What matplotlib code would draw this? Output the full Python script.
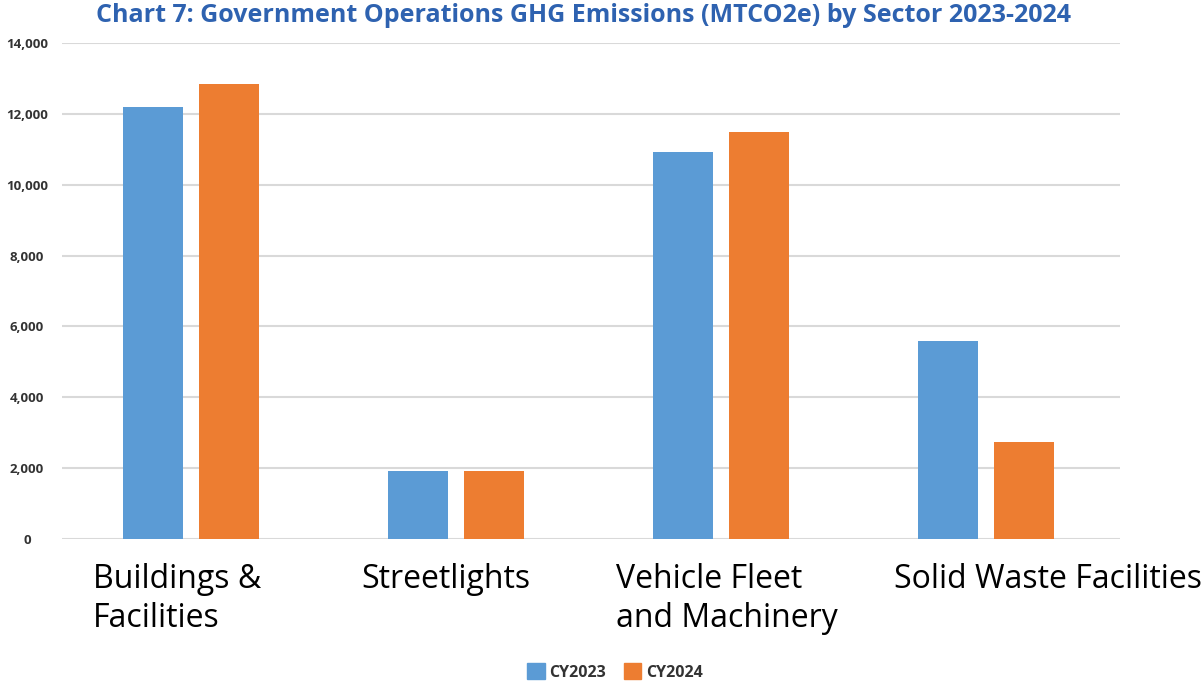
import matplotlib
matplotlib.use("Agg")
import matplotlib.pyplot as plt
import matplotlib.transforms as mtransforms
from matplotlib.patches import Patch
import numpy as np

categories = ["Buildings &\nFacilities", "Streetlights", "Vehicle Fleet\nand Machinery", "Solid Waste Facilities"]
cy2023 = [12200, 1915, 10930, 5580]
cy2024 = [12850, 1915, 11490, 2730]
series_names = ["CY2023", "CY2024"]
yticks = [0, 2000, 4000, 6000, 8000, 10000, 12000, 14000]
title = "Chart 7: Government Operations GHG Emissions (MTCO2e) by Sector 2023-2024"

BLUE = "#5B9BD5"
ORANGE = "#ED7D31"

plt.rcParams['font.family'] = ['Open Sans', 'DejaVu Sans']

fig = plt.figure(figsize=(12.04, 6.84), dpi=100)
ax = fig.add_axes([62/1204, 145/684, (1120-62)/1204, (539-43)/684])

x = np.arange(len(categories))
w = 0.226
off = 0.143
ax.bar(x - off, cy2023, width=w, color=BLUE, zorder=3, label=series_names[0])
ax.bar(x + off, cy2024, width=w, color=ORANGE, zorder=3, label=series_names[1])

ax.set_xlim(-0.487, 3.506)
ax.set_ylim(0, 14000)
ax.set_yticks(yticks)
ax.set_yticklabels([f"{v:,}" for v in yticks], fontsize=9.5, fontweight='bold', color='#333333')
for lbl in ax.get_yticklabels():
    lbl.set_horizontalalignment('center')
ax.tick_params(axis='y', length=0, pad=25.2)
ax.yaxis.grid(True, color='#D9D9D9', linewidth=1.5, zorder=0)
ax.set_axisbelow(True)
for s in ax.spines.values():
    s.set_visible(False)

ax.set_xticks(x)
ax.set_xticklabels(categories, fontsize=23, color='black', linespacing=1.24)
ax.tick_params(axis='x', length=0, pad=17)
label_shift_px = [-98, -95, -105, -92]
for lbl, dx in zip(ax.get_xticklabels(), label_shift_px):
    lbl.set_horizontalalignment('left')
    lbl.set_verticalalignment('top')
    lbl.set_multialignment('left')
    lbl.set_transform(lbl.get_transform() + mtransforms.ScaledTranslation(dx/100, 0, fig.dpi_scale_trans))

fig.text(584/1204, 1 - 15/684, title, ha='center', va='center', fontsize=18,
         fontweight='bold', color='#2E62B0')

handles = [Patch(color=BLUE, label=series_names[0]), Patch(color=ORANGE, label=series_names[1])]
fig.legend(handles=handles, loc='center', bbox_to_anchor=(615/1204, 1 - 672/684), ncol=2,
           frameon=False, prop={'size': 11.5, 'weight': 'bold'}, handlelength=1.1, handleheight=1.1,
           handletextpad=0.3, columnspacing=1.1, labelcolor='#333333')

fig.savefig("out.png", dpi=100)
